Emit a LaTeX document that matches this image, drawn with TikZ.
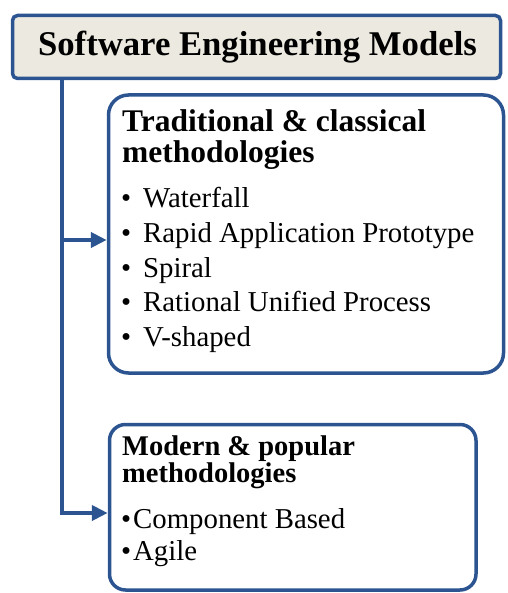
\documentclass[tikz,border=0pt]{standalone}
\usepackage{fontspec}
\setmainfont{Liberation Serif}
\usetikzlibrary{arrows.meta}
\definecolor{boxblue}{RGB}{43,84,145}
\definecolor{titlefill}{RGB}{236,234,224}
\tikzset{
  box/.style={draw=boxblue, line width=3.5pt, inner sep=0pt},
  link/.style={draw=boxblue, line width=4pt},
  head/.style={anchor=base west, inner sep=0pt, font=\bfseries},
  entry/.style={anchor=base west, inner sep=0pt, font=\fontsize{28.8}{30}\selectfont},
}
\begin{document}
\begin{tikzpicture}[x=1pt,y=-1pt]
\useasboundingbox (0,0) rectangle (507,593);

% boxes
\node[box, fill=titlefill, rounded corners=5pt, minimum width=488pt, minimum height=63pt] (models) at (256.5,47) {};
\node[box, rounded corners=20pt, minimum width=395pt, minimum height=278pt] (trad) at (306,234) {};
\node[box, rounded corners=16pt, minimum width=366.5pt, minimum height=165.5pt] (modern) at (292.75,507.25) {};

% title
\node[head, anchor=base, font=\bfseries\fontsize{34.7}{36}\selectfont] (title) at (257.5,56) {Software Engineering Models};

% traditional
\node[head, font=\bfseries\fontsize{31.5}{32}\selectfont] (tradhead) at (122,132) {Traditional \& classical};
\node[head, font=\bfseries\fontsize{31.5}{32}\selectfont] (tradsub) at (122,163) {methodologies};
\foreach \name [count=\i] in {Waterfall, Rapid Application Prototype, Spiral, Rational Unified Process, V-shaped}
  \node[entry] (trad\i) at (121,173.5+34.5*\i) {\makebox[22pt][l]{\textbullet}\name};

% modern
\node[head, font=\bfseries\fontsize{28.5}{29}\selectfont] (modhead) at (122,455) {Modern \& popular};
\node[head, font=\bfseries\fontsize{28.5}{29}\selectfont] (modsub) at (122,482) {methodologies};
\node[entry] (mod1) at (121,528) {\makebox[12pt][l]{\textbullet}Component Based};
\node[entry] (mod2) at (121,560) {\makebox[12pt][l]{\textbullet}Agile};

% connectors
\coordinate (j1) at (62,240);
\coordinate (j2) at (62,513);
\draw[link, -{Triangle[length=16pt,width=15pt]}] (models.south -| j2) -- (j2) -- (j2 -| modern.west);
\draw[link, -{Triangle[length=16pt,width=15pt]}] (j1) -- (j1 -| trad.west);
\end{tikzpicture}
\end{document}
